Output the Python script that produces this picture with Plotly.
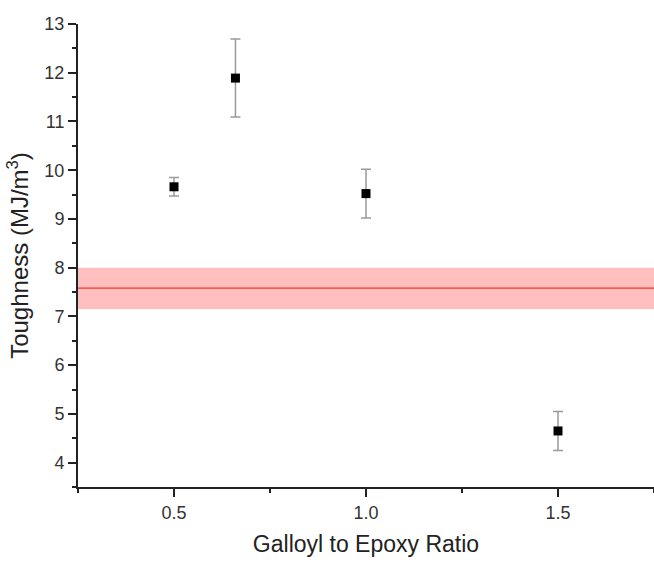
import plotly.graph_objects as go

ratio = [0.5, 0.66, 1.0, 1.5]
toughness = [9.66, 11.89, 9.52, 4.65]
toughness_err = [0.19, 0.80, 0.50, 0.40]

ref_mean = 7.58
ref_low = 7.15
ref_high = 8.0

x_ticks = [0.5, 1.0, 1.5]
x_tick_labels = ["0.5", "1.0", "1.5"]
y_ticks = [4, 5, 6, 7, 8, 9, 10, 11, 12, 13]

fig = go.Figure()

fig.add_trace(go.Scatter(
    x=ratio, y=toughness, mode="markers",
    marker=dict(symbol="square", size=9, color="black"),
    error_y=dict(type="data", array=toughness_err, visible=True,
                 color="#9a9a9a", thickness=1.5, width=5),
    showlegend=False,
))

fig.add_shape(type="rect", xref="paper", yref="y", x0=0, x1=1,
              y0=ref_low, y1=ref_high, fillcolor="#ffbfbf",
              line=dict(width=0), layer="below")
fig.add_shape(type="line", xref="paper", yref="y", x0=0, x1=1,
              y0=ref_mean, y1=ref_mean, line=dict(color="#ff3030", width=1.2),
              layer="below")

font_fam = "Liberation Sans, Arial, sans-serif"

fig.update_layout(
    width=654, height=563,
    margin=dict(l=78, r=0, t=24, b=76),
    paper_bgcolor="white", plot_bgcolor="white",
    font=dict(family=font_fam, color="#222222"),
    xaxis=dict(
        range=[0.25, 1.75], tickvals=x_ticks, ticktext=x_tick_labels,
        showline=True, linecolor="#222222", linewidth=2,
        ticks="outside", ticklen=8, tickwidth=1.5, tickcolor="#222222",
        minor=dict(tickvals=[0.25, 0.75, 1.25, 1.75], ticks="outside",
                   ticklen=4, tickwidth=1.5, tickcolor="#222222"),
        showgrid=False, zeroline=False,
        tickfont=dict(size=18, color="#333333"),
        title=dict(text="Galloyl to Epoxy Ratio", font=dict(size=23, color="#222222"),
                   standoff=14),
    ),
    yaxis=dict(
        range=[3.5, 13], tickvals=y_ticks,
        showline=True, linecolor="#222222", linewidth=2,
        ticks="outside", ticklen=8, tickwidth=1.5, tickcolor="#222222",
        minor=dict(dtick=0.5, tick0=3.5, ticks="outside", ticklen=4,
                   tickwidth=1.5, tickcolor="#222222"),
        showgrid=False, zeroline=False,
        tickfont=dict(size=18, color="#333333"),
        title=dict(text="Toughness (MJ/m<sup>3</sup>)", font=dict(size=24, color="#222222"),
                   standoff=9),
    ),
)

fig.write_html("out.html")
